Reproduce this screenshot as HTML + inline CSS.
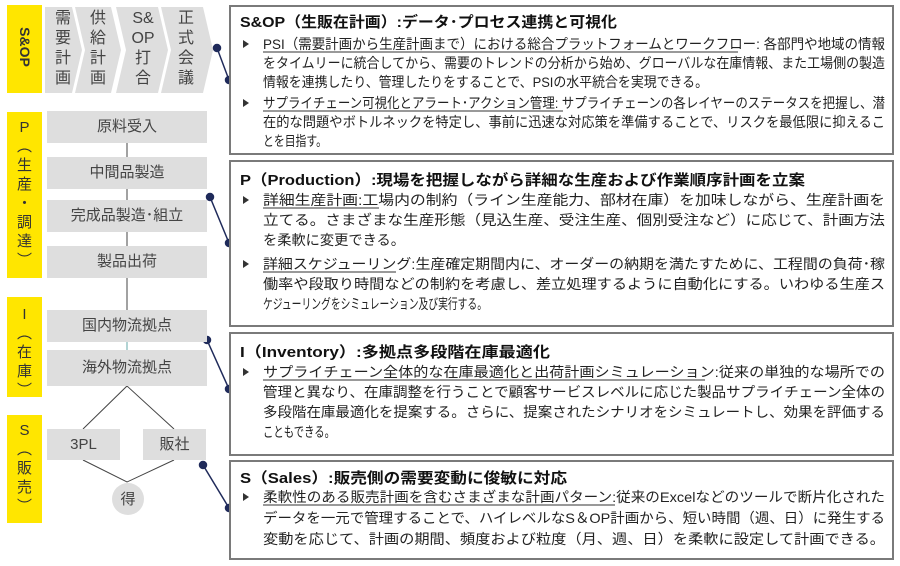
<!DOCTYPE html>
<html><head><meta charset="utf-8"><style>
body{margin:0;width:900px;height:566px;background:#fff;position:relative;overflow:hidden;font-family:"Liberation Sans","Noto Sans CJK JP",sans-serif;color:#222}
.a{position:absolute}
.y{position:absolute;background:#ffe600;left:7px;width:35px;color:#333;font-size:15px;text-align:center}
.g{position:absolute;background:#dedede;color:#444;font-size:15px;text-align:center}
.box{position:absolute;left:229px;width:661px;border:2px solid #7a7a7a}
svg text{font-family:"Liberation Sans","Noto Sans CJK JP",sans-serif}
</style></head><body>
<svg class="a" style="left:0;top:0" width="230" height="566">
<g fill="#dedede">
<polygon points="45,7 72,7 82,50 72,93 45,93"/>
<polygon points="75,7 111,7 121,50 111,93 75,93 85,50"/>
<polygon points="116,7 158,7 168,50 158,93 116,93 126,50"/>
<polygon points="161,7 203,7 213,50 203,93 161,93 171,50"/>
</g>
<g stroke="#444" stroke-width="1">
<line x1="127" y1="143" x2="127" y2="157"/>
<line x1="127" y1="189" x2="127" y2="200"/>
<line x1="127" y1="232" x2="127" y2="246"/>
<line x1="127" y1="278" x2="127" y2="310"/>
<line x1="127" y1="342" x2="127" y2="350" stroke="#6aa"/>
<polyline points="83,429 127,386 174,429" fill="none"/>
<polyline points="83,460 127,482 174,460" fill="none"/>
</g>
<circle cx="128" cy="499" r="16" fill="#dedede"/>
<g stroke="#1f2a5a" stroke-width="1.5" fill="#1f2a5a">
<line x1="217" y1="48" x2="229" y2="80"/><circle cx="217" cy="48" r="3.5"/><circle cx="229" cy="80" r="3.5"/>
<line x1="210" y1="197" x2="229" y2="243"/><circle cx="210" cy="197" r="3.5"/><circle cx="229" cy="243" r="3.5"/>
<line x1="207" y1="340" x2="229" y2="389"/><circle cx="207" cy="340" r="3.5"/><circle cx="229" cy="389" r="3.5"/>
<line x1="203" y1="465" x2="229" y2="508"/><circle cx="203" cy="465" r="3.5"/><circle cx="229" cy="508" r="3.5"/>
</g>
</svg>
<div class="a" style="left:53px;top:9px;width:20px;font-size:16px;line-height:20px;color:#444;text-align:center">需<br>要<br>計<br>画</div>
<div class="a" style="left:88px;top:9px;width:20px;font-size:16px;line-height:20px;color:#444;text-align:center">供<br>給<br>計<br>画</div>
<div class="a" style="left:127px;top:9px;width:32px;font-size:16px;line-height:20px;color:#444;text-align:center">S&amp;<br>OP<br>打<br>合</div>
<div class="a" style="left:176px;top:9px;width:20px;font-size:16px;line-height:20px;color:#444;text-align:center">正<br>式<br>会<br>議</div>

<div class="y" style="top:5px;height:88px"><div style="position:absolute;left:-27px;top:34px;width:90px;transform:rotate(90deg);font-size:14px;font-weight:bold">S&amp;OP</div></div>
<div class="y" style="top:112px;height:166px;line-height:19px;padding-top:6px;box-sizing:border-box">P<br>︵<br>生<br>産<br>・<br>調<br>達<br>︶</div>
<div class="y" style="top:297px;height:100px;line-height:19px;padding-top:8px;box-sizing:border-box">I<br>︵<br>在<br>庫<br>︶</div>
<div class="y" style="top:415px;height:108px;line-height:19px;padding-top:6px;box-sizing:border-box">S<br>︵<br>販<br>売<br>︶</div>

<div class="g" style="left:47px;top:111px;width:160px;height:32px;line-height:32px">原料受入</div>
<div class="g" style="left:47px;top:157px;width:160px;height:32px;line-height:32px">中間品製造</div>
<div class="g" style="left:47px;top:200px;width:160px;height:32px;line-height:32px">完成品製造･組立</div>
<div class="g" style="left:47px;top:246px;width:160px;height:32px;line-height:32px">製品出荷</div>
<div class="g" style="left:47px;top:310px;width:160px;height:32px;line-height:32px">国内物流拠点</div>
<div class="g" style="left:47px;top:350px;width:160px;height:36px;line-height:36px">海外物流拠点</div>
<div class="g" style="left:47px;top:429px;width:73px;height:31px;line-height:31px">3PL</div>
<div class="g" style="left:143px;top:429px;width:63px;height:31px;line-height:31px">販社</div>
<div class="a" style="left:112px;top:488px;width:32px;text-align:center;font-size:15px;color:#444">得</div>

<div class="box" style="top:5px;height:146px"></div>
<div class="box" style="top:160px;height:163px"></div>
<div class="box" style="top:332px;height:120px"></div>
<div class="box" style="top:460px;height:96px"></div>

<svg class="a" style="left:0;top:0" width="900" height="566">
<g font-weight="bold" font-size="15" fill="#111" lengthAdjust="spacingAndGlyphs">
<text x="240" y="27" textLength="377" lengthAdjust="spacingAndGlyphs">S&amp;OP（生販在計画）:データ･プロセス連携と可視化</text>
<text x="240" y="185" textLength="565" lengthAdjust="spacingAndGlyphs">P（Production）:現場を把握しながら詳細な生産および作業順序計画を立案</text>
<text x="240" y="357" textLength="310" lengthAdjust="spacingAndGlyphs">I（Inventory）:多拠点多段階在庫最適化</text>
<text x="240" y="483" textLength="327" lengthAdjust="spacingAndGlyphs">S（Sales）:販売側の需要変動に俊敏に対応</text>
</g>
<g fill="#333">
<polygon points="243,40 249,44 243,48"/><polygon points="243,99 249,103 243,107"/>
<polygon points="243,196 249,200 243,204"/><polygon points="243,260 249,264 243,268"/>
<polygon points="243,368 249,372 243,376"/><polygon points="243,493 249,497 243,501"/>
</g>
<g stroke="#333" stroke-width="1">
<line x1="263" y1="52" x2="738" y2="52"/>
<line x1="263" y1="111" x2="563" y2="111"/>
<line x1="263" y1="208" x2="379" y2="208"/>
<line x1="263" y1="272" x2="396" y2="272"/>
<line x1="263" y1="380" x2="705" y2="380"/>
<line x1="263" y1="505" x2="615" y2="505"/>
</g>
<g font-size="14" fill="#222">
<text x="263" y="49" textLength="622" lengthAdjust="spacingAndGlyphs">PSI（需要計画から生産計画まで）における総合プラットフォームとワークフロー: 各部門や地域の情報</text>
<text x="263" y="68" textLength="622" lengthAdjust="spacingAndGlyphs">をタイムリーに統合してから、需要のトレンドの分析から始め、グローバルな在庫情報、また工場側の製造</text>
<text x="263" y="87" textLength="445" lengthAdjust="spacingAndGlyphs">情報を連携したり、管理したりをすることで、PSIの水平統合を実現できる。</text>
<text x="263" y="108" textLength="622" lengthAdjust="spacingAndGlyphs">サプライチェーン可視化とアラート･アクション管理: サプライチェーンの各レイヤーのステータスを把握し、潜</text>
<text x="263" y="127" textLength="622" lengthAdjust="spacingAndGlyphs">在的な問題やボトルネックを特定し、事前に迅速な対応策を準備することで、リスクを最低限に抑えるこ</text>
<text x="263" y="146" textLength="64" lengthAdjust="spacingAndGlyphs">とを目指す。</text>

<text x="263" y="205" textLength="622" lengthAdjust="spacingAndGlyphs">詳細生産計画:工場内の制約（ライン生産能力、部材在庫）を加味しながら、生産計画を</text>
<text x="263" y="225" textLength="622" lengthAdjust="spacingAndGlyphs">立てる。さまざまな生産形態（見込生産、受注生産、個別受注など）に応じて、計画方法</text>
<text x="263" y="245" textLength="142" lengthAdjust="spacingAndGlyphs">を柔軟に変更できる。</text>
<text x="263" y="269" textLength="622" lengthAdjust="spacingAndGlyphs">詳細スケジューリング:生産確定期間内に、オーダーの納期を満たすために、工程間の負荷･稼</text>
<text x="263" y="289" textLength="622" lengthAdjust="spacingAndGlyphs">働率や段取り時間などの制約を考慮し、差立処理するように自動化にする。いわゆる生産ス</text>
<text x="263" y="309" textLength="224" lengthAdjust="spacingAndGlyphs">ケジューリングをシミュレーション及び実行する。</text>

<text x="263" y="377" textLength="622" lengthAdjust="spacingAndGlyphs">サプライチェーン全体的な在庫最適化と出荷計画シミュレーション:従来の単独的な場所での</text>
<text x="263" y="397" textLength="622" lengthAdjust="spacingAndGlyphs">管理と異なり、在庫調整を行うことで顧客サービスレベルに応じた製品サプライチェーン全体の</text>
<text x="263" y="417" textLength="622" lengthAdjust="spacingAndGlyphs">多段階在庫最適化を提案する。さらに、提案されたシナリオをシミュレートし、効果を評価する</text>
<text x="263" y="437" textLength="72" lengthAdjust="spacingAndGlyphs">こともできる。</text>

<text x="263" y="502" textLength="622" lengthAdjust="spacingAndGlyphs">柔軟性のある販売計画を含むさまざまな計画パターン:従来のExcelなどのツールで断片化された</text>
<text x="263" y="523" textLength="622" lengthAdjust="spacingAndGlyphs">データを一元で管理することで、ハイレベルなS＆OP計画から、短い時間（週、日）に発生する</text>
<text x="263" y="544" textLength="622" lengthAdjust="spacingAndGlyphs">変動を応じて、計画の期間、頻度および粒度（月、週、日）を柔軟に設定して計画できる。</text>
</g>
</svg>
</body></html>
